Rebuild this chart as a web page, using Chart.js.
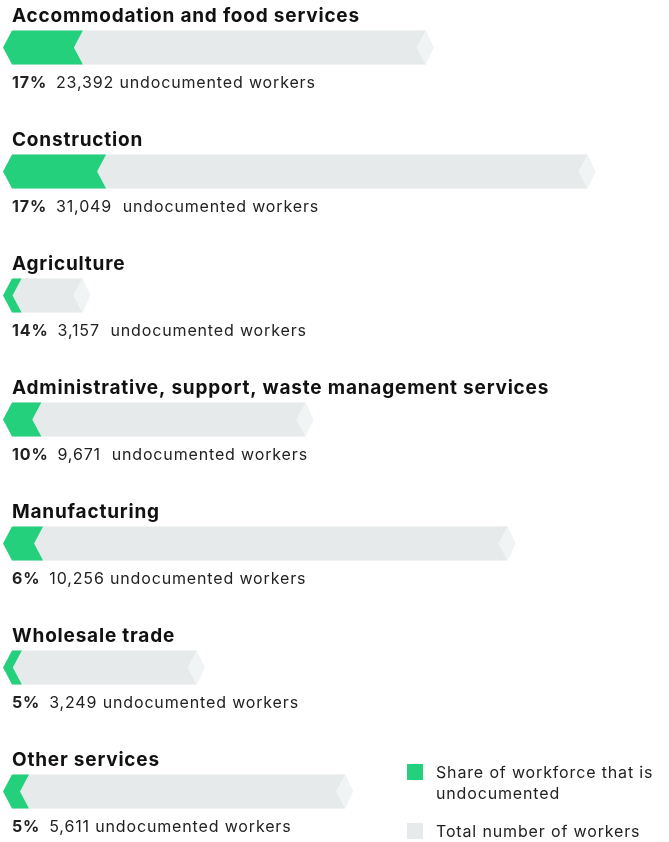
<!DOCTYPE html>
<html>
<head>
<meta charset="utf-8">
<script src="https://cdn.jsdelivr.net/npm/chart.js@4.4.1/dist/chart.umd.min.js"></script>
<style>
  html, body { margin: 0; padding: 0; background: #fff; }
  canvas { display: block; }
</style>
</head>
<body>
<canvas id="myChart" width="669" height="842"></canvas>
<script>
// industries, top to bottom
const categories = [
  'Accommodation and food services',
  'Construction',
  'Agriculture',
  'Administrative, support, waste management services',
  'Manufacturing',
  'Wholesale trade',
  'Other services'
];
// undocumented workers (green part)
const undocumented = [23392, 31049, 3157, 9671, 10256, 3249, 5611];
// total workers (whole bar)
const totalWorkers = [136600, 190000, 23300, 96900, 163600, 61000, 110000];
// share of workforce that is undocumented, %
const shares = [17, 17, 14, 10, 6, 5, 5];
// caption text under each bar
const countLabels = [
  '23,392 undocumented workers',
  '31,049  undocumented workers',
  '3,157  undocumented workers',
  '9,671  undocumented workers',
  '10,256 undocumented workers',
  '3,249 undocumented workers',
  '5,611 undocumented workers'
];
const legendLabels = [
  ['Share of workforce that is', 'undocumented'],
  ['Total number of workers']
];

const GREEN = '#25d07c';
const GRAY = '#e6eaea';
const CAP = '#f1f4f4';

// draws the arrow shaped bars, titles, captions and legend
const arrowBars = {
  id: 'arrowBars',
  beforeDatasetsDraw() { return false; },
  afterDraw(chart) {
    const ctx = chart.ctx;
    const green = chart.getDatasetMeta(0);
    const gray = chart.getDatasetMeta(1);

    function poly(pts, color) {
      ctx.beginPath();
      ctx.moveTo(pts[0][0], pts[0][1]);
      for (let k = 1; k < pts.length; k++) ctx.lineTo(pts[k][0], pts[k][1]);
      ctx.closePath();
      ctx.fillStyle = color;
      ctx.fill();
    }

    ctx.save();
    for (let i = 0; i < categories.length; i++) {
      const t = gray.data[i].getProps(['x', 'y', 'base', 'height'], true);
      const g = green.data[i].getProps(['x', 'y', 'base', 'height'], true);
      const top = t.y - t.height / 2, bot = t.y + t.height / 2;

      // total bar with notched end and light tip
      poly([[t.base, top], [t.x, top], [t.x - 9, t.y], [t.x, bot], [t.base, bot]], GRAY);
      poly([[t.x - 9, t.y], [t.x, top], [t.x + 8, t.y], [t.x, bot]], CAP);
      // undocumented share as a chevron
      poly([[g.base - 9, g.y], [g.base, top], [g.x, top], [g.x - 9, g.y], [g.x, bot], [g.base, bot]], GREEN);

      // title
      ctx.fillStyle = '#111';
      ctx.textAlign = 'left';
      ctx.textBaseline = 'alphabetic';
      ctx.font = '700 19px Inter';
      ctx.letterSpacing = '0.8px';
      ctx.fillText(categories[i], 12, t.y - 25.5);

      // caption
      ctx.fillStyle = '#222';
      ctx.font = '700 16px Inter';
      ctx.letterSpacing = '0.85px';
      const pct = shares[i] + '%';
      ctx.fillText(pct, 12, t.y + 40);
      const w = ctx.measureText(pct).width;
      ctx.font = '400 16px Inter';
      ctx.fillText(countLabels[i], 12 + w + 9, t.y + 40);
    }

    // legend
    ctx.font = '400 16px Inter';
    ctx.letterSpacing = '0.85px';
    ctx.fillStyle = GREEN;
    ctx.fillRect(407, 764, 16, 16);
    ctx.fillStyle = GRAY;
    ctx.fillRect(407, 823, 16, 16);
    ctx.fillStyle = '#222';
    ctx.fillText(legendLabels[0][0], 436, 778);
    ctx.fillText(legendLabels[0][1], 436, 799);
    ctx.fillText(legendLabels[1][0], 436, 837);
    ctx.restore();
  }
};

window.onload = function() {
  const data = {
    labels: categories,
    datasets: [{
      label: legendLabels[0].join(' '),
      data: undocumented,
      backgroundColor: GREEN,
      grouped: false,
      barThickness: 34
    }, {
      label: legendLabels[1][0],
      data: totalWorkers,
      backgroundColor: GRAY,
      grouped: false,
      barThickness: 34
    }]
  };

  const config = {
    type: 'bar',
    data: data,
    options: {
      indexAxis: 'y',
      responsive: false,
      animation: false,
      devicePixelRatio: 1,
      layout: {
        padding: { left: 12, right: 51, top: 47.5, bottom: 50.5 }
      },
      scales: {
        x: { type: 'linear', min: 0, max: 200000, display: false },
        y: { type: 'category', offset: false, display: false }
      },
      plugins: {
        legend: { display: false },
        tooltip: { enabled: false }
      }
    },
    plugins: [arrowBars]
  };

  const ctx = document.getElementById('myChart').getContext('2d');
  new Chart(ctx, config);
};
</script>
</body>
</html>
